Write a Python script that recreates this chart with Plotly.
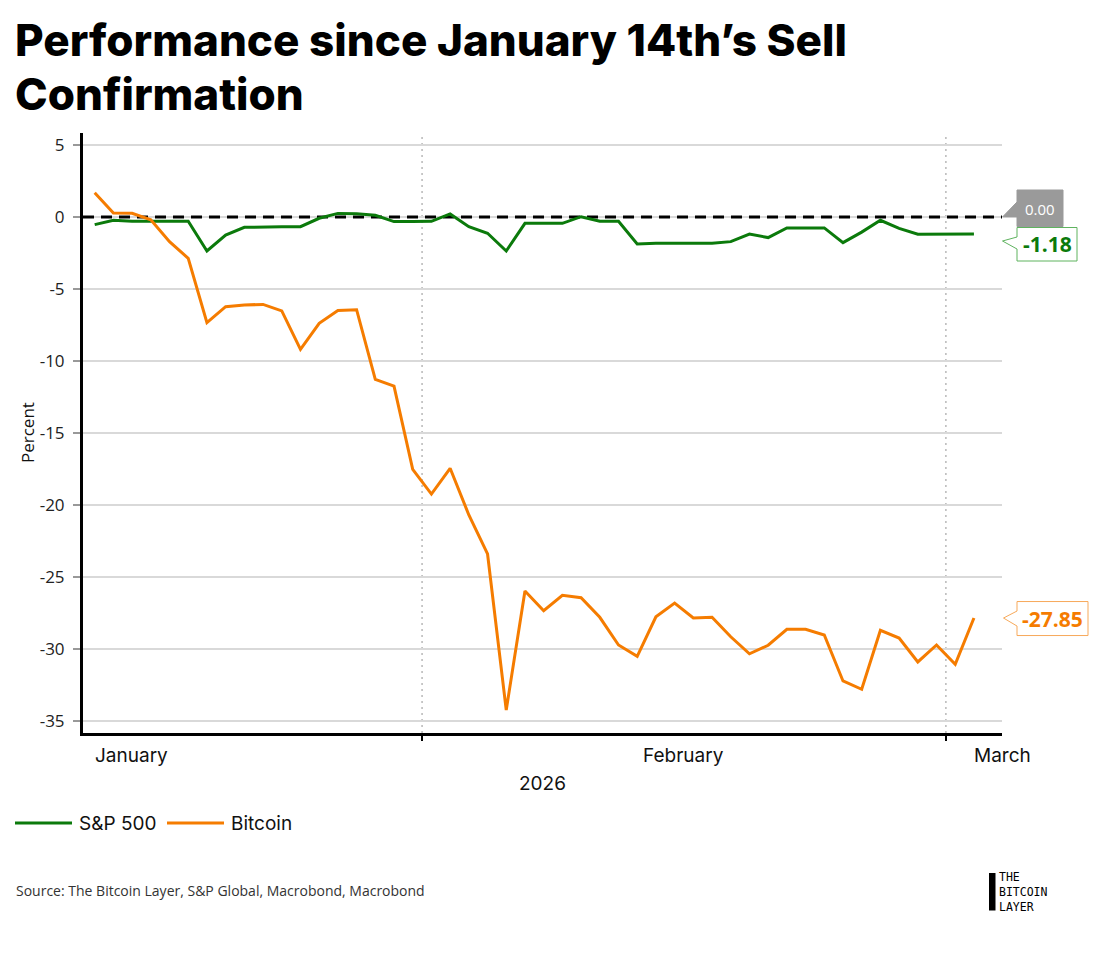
import pandas as pd
import plotly.graph_objects as go

# ---------------- data ----------------
dates = pd.date_range("2026-01-14 12:00", periods=48, freq="D")

sp500 = [-0.53, -0.23, -0.30, -0.30, -0.30, -0.30, -2.36, -1.25, -0.72, -0.67,
         -0.67, -0.67, -0.09, 0.25, 0.23, 0.12, -0.32, -0.32, -0.30, 0.21,
         -0.67, -1.13, -2.36, -0.44, -0.44, -0.44, 0.02, -0.30, -0.30, -1.88,
         -1.83, -1.83, -1.83, -1.83, -1.71, -1.18, -1.43, -0.76, -0.76, -0.76,
         -1.78, -1.05, -0.23, -0.79, -1.20, -1.20, -1.20, -1.18]

bitcoin = [1.69, 0.28, 0.26, -0.20, -1.71, -2.87, -7.34, -6.23, -6.11, -6.07,
           -6.52, -9.19, -7.38, -6.50, -6.44, -11.27, -11.74, -17.52, -19.24, -17.45,
           -20.69, -23.40, -34.24, -25.97, -27.34, -26.27, -26.44, -27.80, -29.72, -30.51,
           -27.76, -26.81, -27.85, -27.80, -29.15, -30.33, -29.74, -28.63, -28.63, -29.03,
           -32.22, -32.80, -28.70, -29.24, -30.90, -29.72, -31.06, -27.85]

reference_level = 0.0
y_ticks = [5, 0, -5, -10, -15, -20, -25, -30, -35]
month_labels = ["January", "February", "March"]
series_names = ["S&P 500", "Bitcoin"]

GREEN = "#0b7a0b"
ORANGE = "#f57c00"

# ---------------- layout geometry (reference pixels) ----------------
OFF = 8                      # page body margin added by the browser
W, H = 1100 - OFF, 953 - OFF
L, R, T, B = 83, 1002, 133, 733
YMIN, YMAX = -35.833, 5.833
XMIN, XMAX = "2026-01-13 21:00", "2026-03-04 00:00"


def px(x):
    return (x - L) / (R - L)


def py(y):
    return (B - y) / (B - T)


def vy(v):
    return B - (v - YMIN) / (YMAX - YMIN) * (B - T)


fig = go.Figure()
# dashed reference line at zero (drawn under the series)
fig.add_trace(go.Scatter(x=[XMIN, XMAX], y=[reference_level, reference_level], mode="lines",
                         line=dict(color="black", width=3, dash="11px,7px"),
                         hoverinfo="skip", showlegend=False))
fig.add_trace(go.Scatter(x=dates, y=sp500, mode="lines", name=series_names[0],
                         line=dict(color=GREEN, width=3), showlegend=False))
fig.add_trace(go.Scatter(x=dates, y=bitcoin, mode="lines", name=series_names[1],
                         line=dict(color=ORANGE, width=3), showlegend=False))

shapes = []
# month boundary dotted lines
for d in ["2026-02-01", "2026-03-01"]:
    shapes.append(dict(type="line", xref="x", yref="paper", x0=d, x1=d, y0=0, y1=1,
                       line=dict(color="#b8b8b8", width=1.5, dash="2px,4px"), layer="between"))


def callout(tip_x, tip_y, bx0, bx1, by0, by1, j0, j1, fill, line):
    path = (f"M {px(tip_x)},{py(tip_y)} L {px(bx0)},{py(j0)} L {px(bx0)},{py(by0)} "
            f"L {px(bx1)},{py(by0)} L {px(bx1)},{py(by1)} L {px(bx0)},{py(by1)} "
            f"L {px(bx0)},{py(j1)} Z")
    return dict(type="path", xref="paper", yref="paper", path=path,
                fillcolor=fill, line=dict(color=line, width=1), layer="above")


# 0.00 callout (tip on the zero line)
y0p = vy(reference_level)
shapes.append(callout(1002.5, y0p, 1017, 1063, 190, 226.5, 202, y0p, "#9a9a9a", "#9a9a9a"))
# S&P callout
shapes.append(callout(1002.5, 241, 1017, 1077, 227.5, 261, 237, 249, "white", "#5fb35f"))
# Bitcoin callout
ybt = vy(bitcoin[-1])
shapes.append(callout(1003.5, ybt, 1017, 1088, ybt - 16.5, ybt + 17.5, ybt - 7, ybt + 8,
                      "white", "#f7a95a"))

# legend lines
shapes.append(dict(type="line", xref="paper", yref="paper", x0=px(15), x1=px(72),
                   y0=py(823), y1=py(823), line=dict(color=GREEN, width=3)))
shapes.append(dict(type="line", xref="paper", yref="paper", x0=px(167), x1=px(224),
                   y0=py(823), y1=py(823), line=dict(color=ORANGE, width=3)))
# logo bar
shapes.append(dict(type="rect", xref="paper", yref="paper", x0=px(989), x1=px(995.5),
                   y0=py(910.5), y1=py(873), fillcolor="black", line=dict(width=0)))

GEO = "Inter, Lato, sans-serif"
SANS = "Open Sans, Noto Sans, sans-serif"

ann = []
# title
ann.append(dict(text="Performance since January 14th’s Sell", xref="paper", yref="paper",
                x=px(13), y=py(40), xanchor="left", yanchor="middle", showarrow=False,
                font=dict(family=GEO, size=44, weight=800, color="black")))
ann.append(dict(text="Confirmation", xref="paper", yref="paper",
                x=px(13), y=py(94), xanchor="left", yanchor="middle", showarrow=False,
                font=dict(family=GEO, size=44, weight=800, color="black")))
# y axis title
ann.append(dict(text="Percent", xref="paper", yref="paper", x=px(27), y=py(433),
                textangle=-90, showarrow=False, xanchor="center", yanchor="middle",
                font=dict(family=SANS, size=17, color="#111")))
# month labels
for lab, xp in zip(month_labels, [131.5, 683.5, 1002]):
    ann.append(dict(text=lab, xref="paper", yref="paper", x=px(xp), y=py(755),
                    showarrow=False, xanchor="center", yanchor="middle",
                    font=dict(family=GEO, size=19, color="#111")))
ann.append(dict(text="2026", xref="paper", yref="paper", x=px(542), y=py(783),
                showarrow=False, xanchor="center", yanchor="middle",
                font=dict(family=GEO, size=19, color="#111")))
# callout texts
ann.append(dict(text=f"{reference_level:.2f}", xref="paper", yref="paper", x=px(1040), y=py(208.5),
                showarrow=False, xanchor="center", yanchor="middle",
                font=dict(family=SANS, size=15, color="white")))
ann.append(dict(text="<b>" + f"{sp500[-1]:.2f}" + "</b>", xref="paper", yref="paper",
                x=px(1047), y=py(244.5), showarrow=False, xanchor="center", yanchor="middle",
                font=dict(family=SANS, size=21, color=GREEN)))
ann.append(dict(text="<b>" + f"{bitcoin[-1]:.2f}" + "</b>", xref="paper", yref="paper",
                x=px(1052.5), y=py(ybt + 0.5), showarrow=False, xanchor="center", yanchor="middle",
                font=dict(family=SANS, size=21, color=ORANGE)))
# legend texts
ann.append(dict(text=series_names[0], xref="paper", yref="paper", x=px(77), y=py(823),
                showarrow=False, xanchor="left", yanchor="middle",
                font=dict(family=GEO, size=19, color="#111")))
ann.append(dict(text=series_names[1], xref="paper", yref="paper", x=px(229), y=py(823),
                showarrow=False, xanchor="left", yanchor="middle",
                font=dict(family=GEO, size=19, color="#111")))
# source
ann.append(dict(text="Source: The Bitcoin Layer, S&P Global, Macrobond, Macrobond",
                xref="paper", yref="paper", x=px(14), y=py(890), showarrow=False,
                xanchor="left", yanchor="middle",
                font=dict(family=SANS, size=14, color="#333")))
# logo
ann.append(dict(text="THE<br>BITCOIN<br>LAYER", xref="paper", yref="paper", x=px(997),
                y=py(891.5), showarrow=False, xanchor="left", yanchor="middle", align="left",
                font=dict(family="DejaVu Sans Mono", size=11.5, color="black")))

fig.update_layout(
    width=W, height=H,
    margin=dict(l=L - OFF, r=1100 - R, t=T - OFF, b=953 - B, pad=0),
    paper_bgcolor="white", plot_bgcolor="white",
    showlegend=False,
    shapes=shapes, annotations=ann,
    xaxis=dict(type="date", range=[XMIN, XMAX], showgrid=False, zeroline=False,
               showline=True, linecolor="black", linewidth=3,
               tickvals=["2026-02-01", "2026-03-01"], ticks="outside", ticklen=5,
               tickwidth=1.5, tickcolor="black", showticklabels=False),
    yaxis=dict(range=[YMIN, YMAX], tickvals=y_ticks, ticktext=[str(t) for t in y_ticks],
               showgrid=True, gridcolor="#d9d9d9", gridwidth=1.5, zeroline=False,
               showline=True, linecolor="black", linewidth=3,
               ticks="outside", ticklen=7, tickwidth=1.5, tickcolor="#999",
               ticklabelstandoff=5,
               tickfont=dict(family=SANS, size=17, color="#222")),
)

fig.write_html("out.html")
